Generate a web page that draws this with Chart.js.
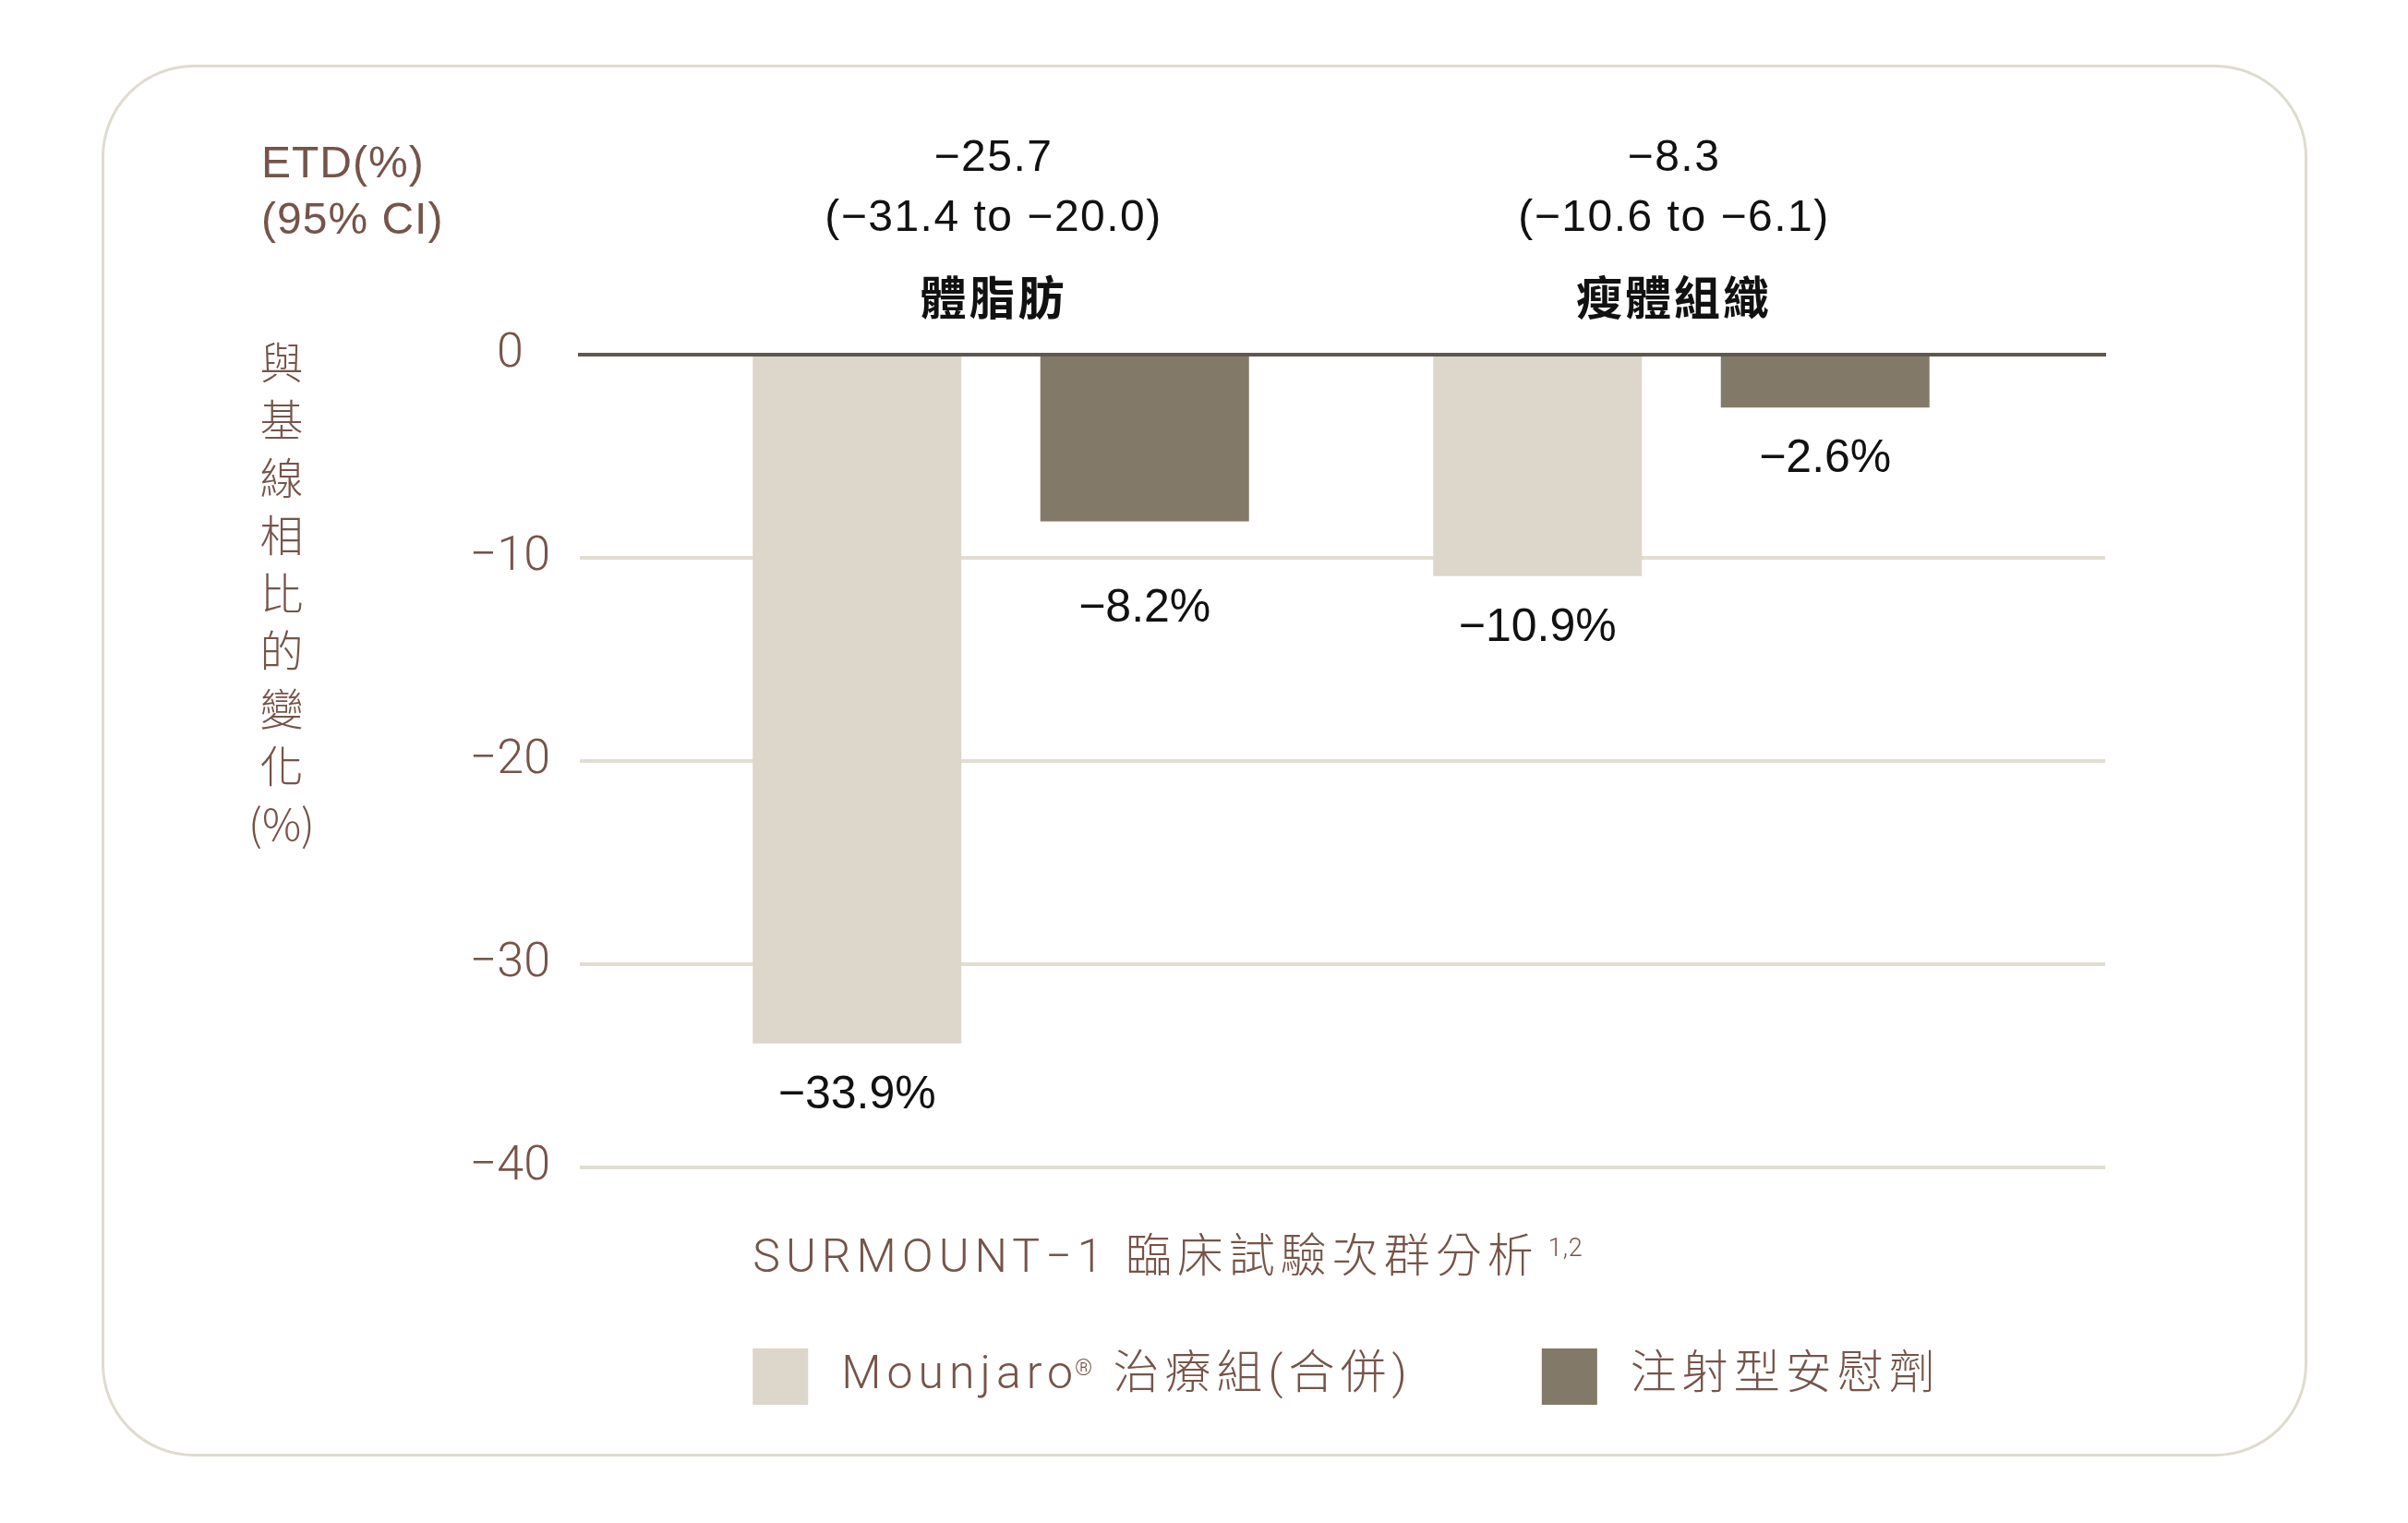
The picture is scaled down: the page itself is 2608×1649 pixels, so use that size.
<!DOCTYPE html>
<html lang="zh-Hant">
<head>
<meta charset="utf-8">
<title>SURMOUNT-1 體脂肪 / 瘦體組織</title>
<script src="https://cdn.jsdelivr.net/npm/chart.js@4.4.1/dist/chart.umd.min.js"></script>
<style>
  html, body { margin: 0; background: #fff; overflow: hidden; }
  .card {
    position: absolute; left: 110px; top: 70px; width: 2389px; height: 1507px;
    box-sizing: border-box; border: 3px solid #dfdbd0; border-radius: 100px;
  }
  canvas { position: absolute; left: 0; top: 0; }
</style>
</head>
<body>
<div class="card"></div>
<canvas id="chart" width="2608" height="1649"></canvas>
<script>
// Values
const groupLabels = ["體脂肪", "瘦體組織"];
const etdValues = ["−25.7", "−8.3"];
const etdRanges = ["(−31.4 to −20.0)", "(−10.6 to −6.1)"];
const mounjaroValues = [-33.9, -10.9];
const placeboValues = [-8.2, -2.6];
const seriesLabels = ["Mounjaro® 治療組(合併)", "注射型安慰劑"];
const yMin = -40;
const yMax = 0;
const yStep = 10;
const yTitleChars = ["與", "基", "線", "相", "比", "的", "變", "化", "(%)"];
const etdHeader = ["ETD(%)", "(95% CI)"];
const studyNote = "SURMOUNT−1 臨床試驗次群分析";
const studyRefs = "1,2";

const BROWN = "#765449";
const LIGHT_BAR = "#ddd6cb";
const DARK_BAR = "#827968";
const ZERO_LINE = "#5f584e";
const GRID_LINE = "#e2ddd3";
const SANS = '"Liberation Sans", "Noto Sans CJK TC", sans-serif';
const THIN = 'Roboto, "Noto Sans CJK TC", sans-serif';

const fmtPct = v => "−" + Math.abs(v).toFixed(1) + "%";

// Text around the plot: value labels, group headers, axis title, note, legend
const annotations = {
  id: "annotations",
  afterDatasetsDraw(chart) {
    const ctx = chart.ctx;
    const y = chart.scales.y;
    const gridPx = y.ticks.map(t => y.getPixelForValue(t.value)).filter(p => p > y.top + 1);
    ctx.save();
    ctx.font = "50px " + SANS;
    ctx.fillStyle = "#111";
    ctx.textAlign = "center";
    ctx.textBaseline = "middle";
    chart.data.datasets.forEach((ds, d) => {
      chart.getDatasetMeta(d).data.forEach((bar, i) => {
        let ly = bar.y + 56;
        // keep the label off a grid line
        gridPx.forEach(g => { if (Math.abs(ly - g) < 30) ly = g + 55; });
        ctx.fillText(fmtPct(ds.data[i].y), bar.x, ly);
      });
    });
    ctx.restore();
  },
  afterDraw(chart) {
    const ctx = chart.ctx;
    const x = chart.scales.x;
    const y = chart.scales.y;
    ctx.save();

    // group headers
    ctx.fillStyle = "#111";
    ctx.textAlign = "center";
    groupLabels.forEach((label, i) => {
      const gx = x.getPixelForValue(i + 1) - 8;
      ctx.letterSpacing = "1.5px";
      ctx.font = "48px " + SANS;
      ctx.textBaseline = "alphabetic";
      ctx.fillText(etdValues[i], gx, 185);
      ctx.fillText(etdRanges[i], gx, 250);
      ctx.letterSpacing = "3px";
      ctx.font = 'bold 50px "Noto Sans CJK TC", sans-serif';
      ctx.textBaseline = "middle";
      ctx.fillText(label, gx, 322);
    });

    // ETD header, top left
    ctx.fillStyle = BROWN;
    ctx.textAlign = "left";
    ctx.textBaseline = "alphabetic";
    ctx.letterSpacing = "1px";
    ctx.font = "48px " + SANS;
    ctx.fillText(etdHeader[0], 283, 192);
    ctx.fillText(etdHeader[1], 283, 253);

    // vertical axis title, one character per line
    ctx.letterSpacing = "0px";
    ctx.textAlign = "center";
    ctx.textBaseline = "middle";
    ctx.font = '300 47px "Noto Sans CJK TC", sans-serif';
    yTitleChars.forEach((ch, i) => ctx.fillText(ch, 305, y.top + 8 + i * 62.5));

    // study note under the plot
    const b0 = chart.getDatasetMeta(0).data[0];
    const x0 = b0.x - b0.width / 2;
    ctx.textAlign = "left";
    ctx.textBaseline = "alphabetic";
    ctx.letterSpacing = "6px";
    ctx.font = "300 50px " + THIN;
    ctx.fillText(studyNote, x0, 1377);
    const noteW = ctx.measureText(studyNote).width;
    ctx.letterSpacing = "1px";
    ctx.font = "300 27px " + THIN;
    ctx.fillText(studyRefs, x0 + noteW + 10, 1360);

    // legend
    const colors = chart.data.datasets.map(ds => ds.backgroundColor);
    let lx = x0;
    const ly = 1490;
    seriesLabels.forEach((label, i) => {
      ctx.fillStyle = colors[i];
      ctx.fillRect(lx, ly - 30, 60, 61);
      ctx.fillStyle = BROWN;
      let tx = lx + 96;
      const parts = label.split("®");
      ctx.letterSpacing = "6px";
      ctx.textBaseline = "middle";
      ctx.font = "300 50px " + THIN;
      ctx.fillText(parts[0], tx, ly);
      tx += ctx.measureText(parts[0]).width;
      if (parts.length > 1) {
        ctx.letterSpacing = "0px";
        ctx.font = "300 24px " + THIN;
        ctx.textBaseline = "top";
        ctx.fillText("®", tx - 4, ly - 19);
        tx += ctx.measureText("®").width;
        ctx.letterSpacing = "6px";
        ctx.textBaseline = "middle";
        ctx.font = "300 50px " + THIN;
        ctx.fillText(parts[1], tx, ly);
        tx += ctx.measureText(parts[1]).width;
      }
      lx = tx + 140;
    });
    ctx.restore();
  }
};

new Chart(document.getElementById("chart"), {
  type: "bar",
  data: {
    datasets: [
      {
        label: seriesLabels[0],
        data: mounjaroValues.map((v, i) => ({ x: i + 1, y: v })),
        backgroundColor: LIGHT_BAR,
        borderWidth: 0,
        categoryPercentage: 0.8453,
        barPercentage: 0.7255
      },
      {
        label: seriesLabels[1],
        data: placeboValues.map((v, i) => ({ x: i + 1, y: v })),
        backgroundColor: DARK_BAR,
        borderWidth: 0,
        categoryPercentage: 0.8453,
        barPercentage: 0.7255
      }
    ]
  },
  options: {
    responsive: false,
    devicePixelRatio: 1,
    animation: false,
    layout: { padding: { left: 0, top: 384, right: 328, bottom: 385 } },
    scales: {
      x: {
        type: "linear",
        position: "top",
        offset: false,
        min: 0.38128,
        max: 2.6228,
        afterBuildTicks: s => { s.ticks = groupLabels.map((_, i) => ({ value: i + 1 })); },
        afterFit: s => { s.height = 0; },
        ticks: { display: false },
        grid: { display: true, offset: false, color: "rgba(0,0,0,0)", drawTicks: false },
        border: { display: true, color: ZERO_LINE, width: 4, z: 1 }
      },
      y: {
        min: yMin,
        max: yMax,
        afterFit: s => { s.width = 628; },
        ticks: {
          stepSize: yStep,
          padding: 32,
          crossAlign: "center",
          color: BROWN,
          font: { family: "Roboto", size: 52, weight: 300 },
          callback: v => (v === 0 ? "0" : "−" + Math.abs(v))
        },
        grid: {
          drawTicks: false,
          lineWidth: 4,
          color: c => (c.tick && c.tick.value === 0 ? ZERO_LINE : GRID_LINE)
        },
        border: { display: false }
      }
    },
    plugins: {
      legend: { display: false },
      tooltip: { enabled: false }
    }
  },
  plugins: [annotations]
});
</script>
</body>
</html>
